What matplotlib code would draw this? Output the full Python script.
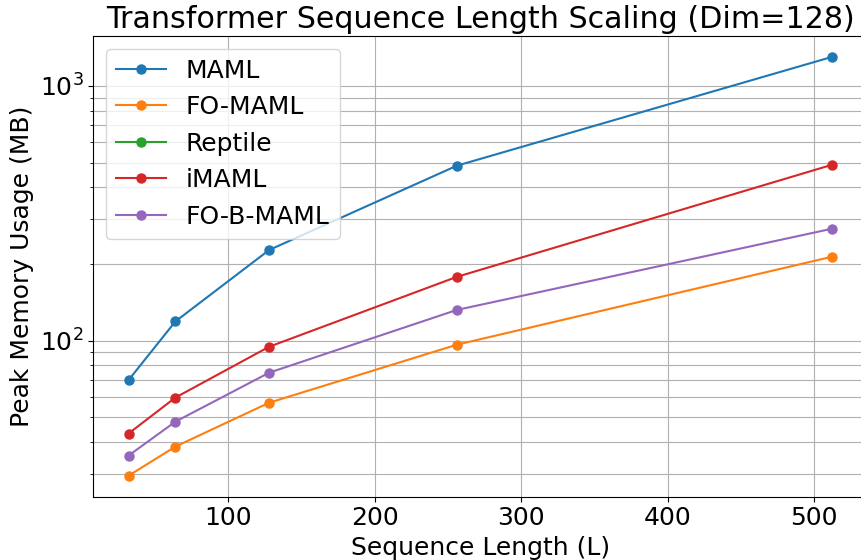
import matplotlib
matplotlib.use("Agg")
from matplotlib import pyplot as plt

seq_lengths = [32, 64, 128, 256, 512]

maml = [70, 119, 227, 486, 1299]
fo_maml = [29.5, 38.4, 57.1, 96.4, 213.5]
reptile = []  # no measurements shown for Reptile, only its legend entry
imaml = [43.2, 59.8, 94.7, 178, 490]
fo_b_maml = [35.4, 48.1, 74.9, 132, 275]

series = [
    ("MAML", maml),
    ("FO-MAML", fo_maml),
    ("Reptile", reptile),
    ("iMAML", imaml),
    ("FO-B-MAML", fo_b_maml),
]

fig = plt.figure(figsize=(8.61, 5.6), dpi=100)
# axes runs slightly past the right and bottom edge like the reference crop
ax = fig.add_axes([0.1084, 0.113, 0.8986, 0.8227])

for name, vals in series:
    xs = seq_lengths[:len(vals)]
    ax.plot(xs, vals, '-o', label=name, linewidth=1.5, markersize=6.5)

ax.set_yscale('log')
ax.grid(True, which='both')
ax.set_title("Transformer Sequence Length Scaling (Dim=128)", fontsize=21.7)
ax.set_xlabel("Sequence Length (L)", fontsize=18)
ax.set_ylabel("Peak Memory Usage (MB)", fontsize=18)
ax.tick_params(axis='both', which='major', labelsize=18)
ax.set_xticks([100, 200, 300, 400, 500])

ax.legend(loc='upper left', fontsize=18)

fig.savefig("out.png", dpi=100)
